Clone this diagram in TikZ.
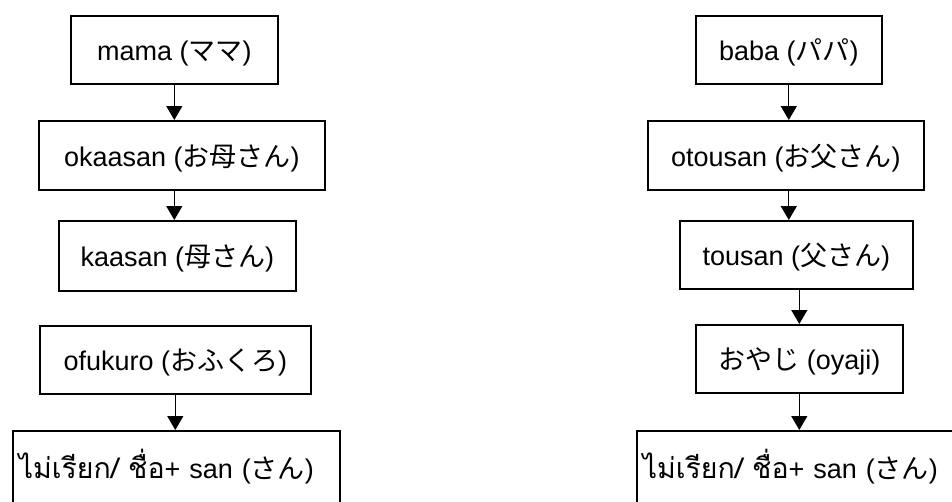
\documentclass[tikz,border=0pt]{standalone}
\usepackage{fontspec}
\setmainfont{Liberation Sans}
\newfontfamily\jp{Noto Sans CJK JP}
\newfontfamily\thai[Script=Thai]{Loma}
\usetikzlibrary{arrows.meta}
\begin{document}
\begin{tikzpicture}[x=1pt,y=-1pt,
  box/.style={draw, line width=1.6pt, anchor=north west, inner sep=0pt,
    text height=24pt, text depth=2pt,
    font=\fontsize{27}{32}\selectfont},
  thaibox/.style={box, align=left, inner xsep=6pt},
  arr/.style={line width=1.3pt, -{Triangle[width=16pt,length=14pt]}}]
\useasboundingbox (0,0) rectangle (952,501);
\clip (0,0) rectangle (952,501);
% left column
\node[box, minimum width=207, minimum height=68] (mama) at (70,15) {mama ({\jp ママ})};
\node[box, minimum width=286, minimum height=69] (okaasan) at (38,120) {okaasan ({\jp お母さん})};
\node[box, minimum width=237, minimum height=70] (kaasan) at (58,220) {kaasan ({\jp 母さん})};
\node[box, minimum width=271, minimum height=68] (ofukuro) at (39,325) {ofukuro ({\jp おふくろ})};
\node[thaibox, text width=315, minimum height=74] (thaiL) at (12,430) {{\thai\fontsize{28.5}{32}\selectfont ไม่เรียก/ ชื่อ}+ san ({\jp さん})};
% right column
\node[box, minimum width=186, minimum height=68] (baba) at (695,15) {baba ({\jp パパ})};
\node[box, minimum width=276, minimum height=69] (otousan) at (647,120) {otousan ({\jp お父さん})};
\node[box, minimum width=233, minimum height=68] (tousan) at (679,220) {tousan ({\jp 父さん})};
\node[box, minimum width=207, minimum height=68] (oyaji) at (695,324) {{\jp おやじ} (oyaji)};
\node[thaibox, text width=318, minimum height=74] (thaiR) at (636,430) {{\thai\fontsize{28.5}{32}\selectfont ไม่เรียก/ ชื่อ}+ san ({\jp さん})};
% arrows
\draw[arr] (mama.south) -- (mama.south |- okaasan.north);
\draw[arr] (mama.south |- okaasan.south) -- (mama.south |- kaasan.north);
\draw[arr] (ofukuro.south) -- (ofukuro.south |- thaiL.north);
\draw[arr] (baba.south) -- (baba.south |- otousan.north);
\draw[arr] (baba.south |- otousan.south) -- (baba.south |- tousan.north);
\draw[arr] (oyaji.north |- tousan.south) -- (oyaji.north);
\draw[arr] (oyaji.south) -- (oyaji.south |- thaiR.north);
\end{tikzpicture}
\end{document}
